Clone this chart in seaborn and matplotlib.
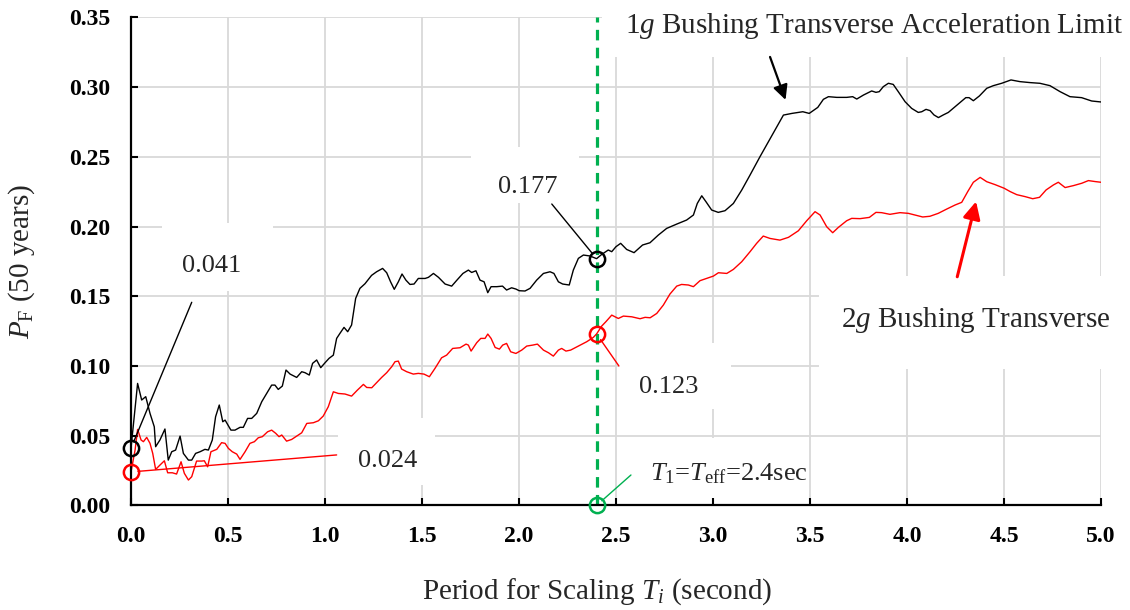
import matplotlib
matplotlib.use("Agg")
import matplotlib.pyplot as plt
from matplotlib.patches import Rectangle
import pandas as pd
import seaborn as sns

# ---------------------------------------------------------------- data
# Probability of failure in 50 years vs. period used for ground-motion scaling
period_1g = [
    0.000, 0.034, 0.055, 0.076, 0.098, 0.120, 0.127, 0.149, 0.175, 0.192,
    0.210, 0.230, 0.253, 0.270, 0.296, 0.313, 0.333, 0.356, 0.381, 0.399,
    0.419, 0.436, 0.455, 0.473, 0.485, 0.515, 0.536, 0.562, 0.579, 0.601,
    0.622, 0.648, 0.674, 0.699, 0.725, 0.742, 0.759, 0.780, 0.799, 0.820,
    0.854, 0.880, 0.897, 0.919, 0.936, 0.957, 0.978, 1.000, 1.021, 1.043,
    1.060, 1.077, 1.098, 1.117, 1.137, 1.158, 1.180, 1.206, 1.240, 1.266,
    1.297, 1.318, 1.338, 1.357, 1.378, 1.397, 1.417, 1.438, 1.459, 1.481,
    1.516, 1.533, 1.559, 1.585, 1.619, 1.653, 1.680, 1.711, 1.739, 1.756,
    1.778, 1.799, 1.820, 1.839, 1.856, 1.885, 1.915, 1.936, 1.962, 1.984,
    2.001, 2.031, 2.057, 2.091, 2.126, 2.160, 2.180, 2.203, 2.225, 2.259,
    2.280, 2.306, 2.332, 2.366, 2.400, 2.426, 2.460, 2.478, 2.500, 2.524,
    2.555, 2.593, 2.637, 2.675, 2.718, 2.761, 2.813, 2.864, 2.899, 2.919,
    2.942, 2.964, 2.993, 3.027, 3.062, 3.105, 3.148, 3.191, 3.242, 3.363,
    3.407, 3.463, 3.496, 3.540, 3.569, 3.595, 3.638, 3.689, 3.720, 3.741,
    3.776, 3.818, 3.840, 3.857, 3.878, 3.904, 3.929, 3.955, 3.990, 4.024,
    4.058, 4.076, 4.098, 4.119, 4.139, 4.162, 4.187, 4.213, 4.248, 4.278,
    4.303, 4.320, 4.342, 4.373, 4.411, 4.445, 4.488, 4.536, 4.582, 4.634,
    4.685, 4.737, 4.789, 4.840, 4.900, 4.952, 5.000,
]
pf_1g = [
    0.0410, 0.0875, 0.0756, 0.0780, 0.0660, 0.0564, 0.0421, 0.0469, 0.0548, 0.0325,
    0.0385, 0.0397, 0.0497, 0.0373, 0.0325, 0.0325, 0.0373, 0.0385, 0.0402, 0.0397,
    0.0469, 0.0636, 0.0720, 0.0600, 0.0612, 0.0540, 0.0540, 0.0560, 0.0560, 0.0624,
    0.0624, 0.0660, 0.0744, 0.0803, 0.0863, 0.0863, 0.0832, 0.0856, 0.0971, 0.0942,
    0.0918, 0.0959, 0.0952, 0.0935, 0.1019, 0.1043, 0.0988, 0.1023, 0.1055, 0.1078,
    0.1198, 0.1234, 0.1277, 0.1246, 0.1294, 0.1485, 0.1557, 0.1590, 0.1650, 0.1676,
    0.1700, 0.1669, 0.1604, 0.1550, 0.1604, 0.1660, 0.1616, 0.1585, 0.1588, 0.1628,
    0.1628, 0.1636, 0.1664, 0.1636, 0.1588, 0.1573, 0.1616, 0.1664, 0.1688, 0.1671,
    0.1683, 0.1616, 0.1604, 0.1526, 0.1569, 0.1569, 0.1573, 0.1545, 0.1561, 0.1552,
    0.1540, 0.1538, 0.1557, 0.1616, 0.1664, 0.1676, 0.1664, 0.1604, 0.1588, 0.1581,
    0.1688, 0.1772, 0.1796, 0.1789, 0.1770, 0.1800, 0.1832, 0.1820, 0.1856, 0.1880,
    0.1836, 0.1813, 0.1868, 0.1884, 0.1939, 0.1987, 0.2018, 0.2047, 0.2083, 0.2166,
    0.2221, 0.2178, 0.2119, 0.2102, 0.2114, 0.2166, 0.2262, 0.2370, 0.2501, 0.2800,
    0.2812, 0.2824, 0.2812, 0.2855, 0.2913, 0.2932, 0.2927, 0.2927, 0.2932, 0.2915,
    0.2944, 0.2973, 0.2963, 0.2968, 0.3004, 0.3028, 0.3020, 0.2968, 0.2896, 0.2848,
    0.2819, 0.2824, 0.2841, 0.2832, 0.2801, 0.2782, 0.2801, 0.2819, 0.2860, 0.2896,
    0.2925, 0.2925, 0.2903, 0.2937, 0.2992, 0.3011, 0.3028, 0.3052, 0.3040, 0.3033,
    0.3028, 0.3011, 0.2968, 0.2932, 0.2925, 0.2901, 0.2894,
]

period_2g = [
    0.000, 0.021, 0.034, 0.052, 0.064, 0.081, 0.098, 0.112, 0.127, 0.149,
    0.172, 0.189, 0.213, 0.235, 0.258, 0.275, 0.296, 0.313, 0.338, 0.364,
    0.378, 0.395, 0.412, 0.442, 0.467, 0.485, 0.502, 0.522, 0.545, 0.562,
    0.588, 0.613, 0.636, 0.656, 0.677, 0.704, 0.725, 0.746, 0.763, 0.777,
    0.802, 0.828, 0.854, 0.880, 0.906, 0.940, 0.966, 0.991, 1.017, 1.043,
    1.069, 1.103, 1.137, 1.167, 1.198, 1.215, 1.241, 1.266, 1.292, 1.318,
    1.344, 1.361, 1.378, 1.395, 1.421, 1.455, 1.481, 1.510, 1.538, 1.567,
    1.601, 1.627, 1.658, 1.696, 1.727, 1.739, 1.753, 1.782, 1.803, 1.825,
    1.839, 1.856, 1.877, 1.899, 1.916, 1.936, 1.957, 1.984, 2.014, 2.040,
    2.071, 2.095, 2.126, 2.152, 2.177, 2.203, 2.220, 2.242, 2.266, 2.306,
    2.349, 2.383, 2.400, 2.426, 2.448, 2.478, 2.512, 2.538, 2.581, 2.624,
    2.650, 2.676, 2.710, 2.744, 2.778, 2.813, 2.838, 2.873, 2.899, 2.933,
    2.976, 3.002, 3.028, 3.071, 3.105, 3.148, 3.191, 3.225, 3.259, 3.294,
    3.345, 3.389, 3.440, 3.483, 3.526, 3.552, 3.586, 3.617, 3.646, 3.689,
    3.715, 3.758, 3.806, 3.840, 3.869, 3.912, 3.964, 4.007, 4.041, 4.081,
    4.118, 4.161, 4.205, 4.248, 4.282, 4.313, 4.342, 4.377, 4.411, 4.454,
    4.501, 4.532, 4.566, 4.609, 4.648, 4.683, 4.717, 4.755, 4.780, 4.815,
    4.858, 4.901, 4.935, 4.970, 5.000,
]
pf_2g = [
    0.0240, 0.0397, 0.0545, 0.0469, 0.0457, 0.0488, 0.0445, 0.0373, 0.0258, 0.0289,
    0.0320, 0.0234, 0.0234, 0.0225, 0.0313, 0.0230, 0.0182, 0.0206, 0.0318, 0.0318,
    0.0320, 0.0277, 0.0385, 0.0402, 0.0450, 0.0445, 0.0409, 0.0385, 0.0368, 0.0330,
    0.0385, 0.0445, 0.0457, 0.0485, 0.0493, 0.0528, 0.0540, 0.0517, 0.0493, 0.0505,
    0.0461, 0.0473, 0.0497, 0.0521, 0.0588, 0.0593, 0.0607, 0.0641, 0.0708, 0.0815,
    0.0803, 0.0799, 0.0784, 0.0827, 0.0868, 0.0846, 0.0844, 0.0880, 0.0918, 0.0952,
    0.0995, 0.1031, 0.1035, 0.0978, 0.0959, 0.0942, 0.0947, 0.0942, 0.0923, 0.0983,
    0.1059, 0.1078, 0.1126, 0.1131, 0.1157, 0.1150, 0.1107, 0.1167, 0.1198, 0.1198,
    0.1229, 0.1198, 0.1133, 0.1121, 0.1150, 0.1162, 0.1102, 0.1090, 0.1114, 0.1143,
    0.1150, 0.1157, 0.1114, 0.1095, 0.1071, 0.1114, 0.1126, 0.1107, 0.1114, 0.1143,
    0.1174, 0.1205, 0.1230, 0.1286, 0.1318, 0.1365, 0.1341, 0.1358, 0.1353, 0.1339,
    0.1349, 0.1346, 0.1377, 0.1437, 0.1516, 0.1573, 0.1585, 0.1581, 0.1569, 0.1612,
    0.1633, 0.1645, 0.1669, 0.1664, 0.1693, 0.1748, 0.1820, 0.1880, 0.1932, 0.1915,
    0.1903, 0.1923, 0.1970, 0.2042, 0.2107, 0.2083, 0.1999, 0.1956, 0.1994, 0.2042,
    0.2059, 0.2057, 0.2066, 0.2102, 0.2100, 0.2088, 0.2100, 0.2095, 0.2083, 0.2069,
    0.2074, 0.2095, 0.2126, 0.2155, 0.2174, 0.2251, 0.2318, 0.2353, 0.2322, 0.2301,
    0.2275, 0.2251, 0.2229, 0.2215, 0.2200, 0.2210, 0.2263, 0.2299, 0.2318, 0.2280,
    0.2294, 0.2311, 0.2330, 0.2323, 0.2318,
]

# highlighted values: at T = 0 and at the effective period
t_eff = 2.4
pf_1g_t0, pf_2g_t0 = 0.041, 0.024
pf_1g_teff, pf_2g_teff = 0.177, 0.123

x_ticks = [0.0, 0.5, 1.0, 1.5, 2.0, 2.5, 3.0, 3.5, 4.0, 4.5, 5.0]
y_ticks = [0.00, 0.05, 0.10, 0.15, 0.20, 0.25, 0.30, 0.35]

# ---------------------------------------------------------------- style
sns.set_theme(style="white")
plt.rcParams["font.family"] = ["Liberation Serif", "DejaVu Serif"]
plt.rcParams["mathtext.fontset"] = "custom"
plt.rcParams["mathtext.rm"] = "Liberation Serif"
plt.rcParams["mathtext.it"] = "Liberation Serif:italic"
plt.rcParams["mathtext.bf"] = "Liberation Serif:bold"

RED = "#FF0000"
GREEN = "#00B050"
GRID = "#D9D9D9"

fig = plt.figure(figsize=(11.3, 6.1), dpi=100)
ax = fig.add_axes([0.11593, 0.17148, 0.85841, 0.79984])

df1 = pd.DataFrame({"T": period_1g, "PF": pf_1g})
df2 = pd.DataFrame({"T": period_2g, "PF": pf_2g})
sns.lineplot(data=df1, x="T", y="PF", ax=ax, color="black", lw=1.0,
             estimator=None, sort=False, zorder=3)
sns.lineplot(data=df2, x="T", y="PF", ax=ax, color=RED, lw=1.0,
             estimator=None, sort=False, zorder=3)

ax.set_xlim(0, 5)
ax.set_ylim(0, 0.35)
ax.set_xticks(x_ticks, [f"{v:.1f}" for v in x_ticks], fontweight="bold")
ax.set_yticks(y_ticks, [f"{v:.2f}" for v in y_ticks], fontweight="bold")
ax.tick_params(direction="in", length=5, width=1.5, pad=15, labelsize=17,
               colors="black", bottom=True, left=True)
ax.grid(True, color=GRID, lw=1.3)
ax.set_axisbelow(True)
for side in ("top", "right"):
    ax.spines[side].set_visible(False)
for side in ("left", "bottom"):
    ax.spines[side].set_color("black")
    ax.spines[side].set_linewidth(1.6)
    ax.spines[side].set_zorder(4)

ax.set_xlabel(r"Period for Scaling $T_i$ (second)", fontsize=21)
ax.set_ylabel(r"$P_{\mathrm{F}}$ (50 years)", fontsize=21)
ax.xaxis.label.set_va("center")
ax.yaxis.label.set_va("center")
ax.xaxis.set_label_coords(0.48, -0.1775)
ax.yaxis.set_label_coords(-0.1124, 0.50)

# effective period
ax.axvline(t_eff, color=GREEN, lw=2.3, dashes=(3.3, 2.3), zorder=2.5)

# white label boxes (T0, P0, T1, P1)
label_boxes = [
    (0.160, 0.1538, 0.732, 0.2026),
    (1.067, 0.0146, 1.567, 0.0627),
    (1.753, 0.2170, 2.309, 0.2571),
    (2.515, 0.0692, 3.093, 0.1165),
    (2.575, 0.0053, 3.479, 0.0484),
    (3.546, 0.0979, 5.200, 0.1648),
    (2.428, 0.3217, 5.200, 0.3700),
]
for t0, p0, t1, p1 in label_boxes:
    ax.add_patch(Rectangle((t0, p0), t1 - t0, p1 - p0, facecolor="white",
                           edgecolor="none", zorder=1.2, clip_on=False))

# leader lines from the marked points to their labels
leaders = [
    ((0.0, pf_1g_t0), (0.313, 0.1457), "black"),
    ((0.0, pf_2g_t0), (1.060, 0.0362), RED),
    ((t_eff, pf_1g_teff), (2.169, 0.2162), "black"),
    ((t_eff, pf_2g_teff), (2.515, 0.1000), RED),
    ((t_eff, 0.0), (2.577, 0.0218), GREEN),
]
for (xy, xytext, col) in leaders:
    ax.annotate("", xy=xy, xytext=xytext, annotation_clip=False,
                arrowprops=dict(arrowstyle="-", color=col, lw=1.0,
                                shrinkA=0, shrinkB=5), zorder=3)

# circled points
ax.plot([0.0], [pf_1g_t0], "o", ms=11, mfc="none", mec="black", mew=1.8,
        clip_on=False, zorder=5)
ax.plot([0.0], [pf_2g_t0], "o", ms=11, mfc="none", mec=RED, mew=1.8,
        clip_on=False, zorder=5)
ax.plot([t_eff], [pf_1g_teff], "o", ms=11, mfc="none", mec="black", mew=1.8,
        clip_on=False, zorder=5)
ax.plot([t_eff], [pf_2g_teff], "o", ms=11, mfc="none", mec=RED, mew=1.8,
        clip_on=False, zorder=5)
ax.plot([t_eff], [0.0], "o", ms=11, mfc="none", mec=GREEN, mew=1.8,
        clip_on=False, zorder=5)

# value labels
num_fs = 19
ax.text(0.263, 0.1674, f"{pf_1g_t0:.3f}", fontsize=num_fs, va="baseline")
ax.text(1.170, 0.0276, f"{pf_2g_t0:.3f}", fontsize=num_fs, va="baseline")
ax.text(1.894, 0.2241, f"{pf_1g_teff:.3f}", fontsize=num_fs, va="baseline")
ax.text(2.619, 0.0807, f"{pf_2g_teff:.3f}", fontsize=num_fs, va="baseline")
ax.text(2.675, 0.0182,
        r"$T_{\mathrm{1}}$=$T_{\mathrm{eff}}$=" + f"{t_eff:.1f}sec",
        fontsize=num_fs, va="baseline")

# curve labels with arrows
ax.text(2.546, 0.3387, r"1$g$ Bushing Transverse Acceleration Limit",
        fontsize=21, va="baseline", clip_on=False)
ax.annotate("", xy=(3.374, 0.2909), xytext=(3.294, 0.3217),
            arrowprops=dict(arrowstyle="-|>", color="black", lw=1.6,
                            mutation_scale=22, shrinkA=0, shrinkB=0))
ax.text(3.660, 0.1278, r"2$g$ Bushing Transverse",
        fontsize=21, va="baseline", clip_on=False)
ax.annotate("", xy=(4.356, 0.2180), xytext=(4.259, 0.1640),
            arrowprops=dict(arrowstyle="-|>", color=RED, lw=2.2,
                            mutation_scale=26, shrinkA=0, shrinkB=0))

fig.savefig("out.png", dpi=100)
